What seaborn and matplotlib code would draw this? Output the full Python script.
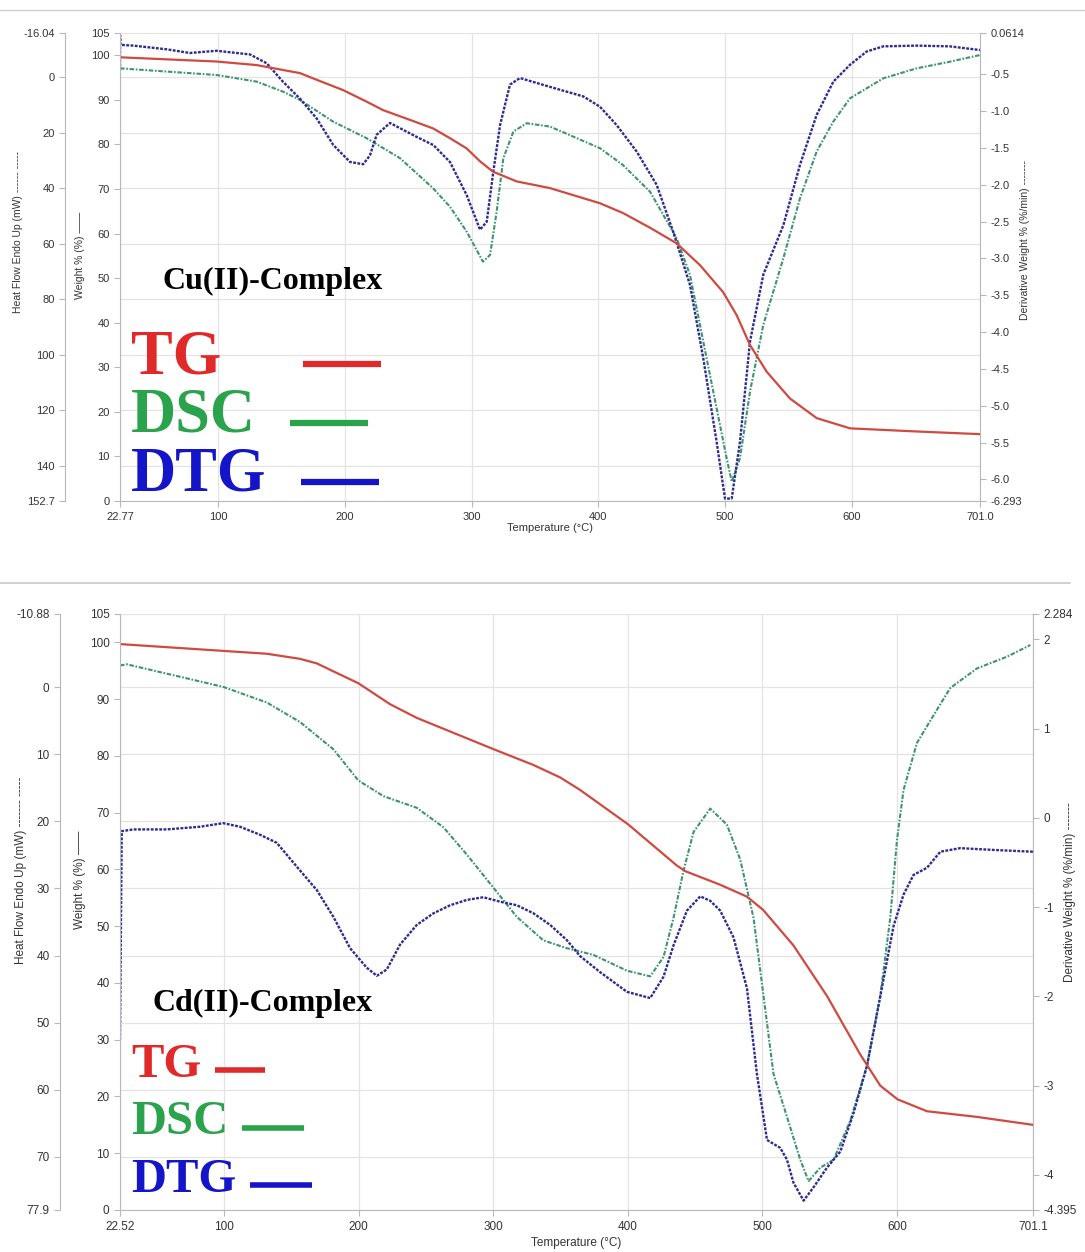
import numpy as np
import pandas as pd
import matplotlib
matplotlib.use("Agg")
import matplotlib.pyplot as plt
import seaborn as sns
from matplotlib.lines import Line2D

# ---------------- Cu(II)-Complex (top panel) ----------------
cu_tg_T = [22.77, 99.0, 130.6, 151.3, 164.7, 177.9, 198.6, 217.3, 230.2, 251.5, 269.6, 283.0,
           296.2, 306.7, 316.9, 335.6, 361.9, 401.3, 419.5, 440.8, 461.8, 480.2, 498.3, 509.1,
           519.6, 532.8, 551.1, 572.2, 598.5, 651.1, 701.0]
cu_tg_w = [99.55, 98.6, 97.8, 96.7, 96.0, 94.5, 92.2, 89.6, 87.7, 85.5, 83.6, 81.4,
           79.1, 76.2, 73.9, 71.7, 70.2, 66.8, 64.6, 61.3, 57.8, 52.9, 46.9, 41.7,
           35.0, 29.0, 23.0, 18.6, 16.3, 15.6, 15.0]

cu_dsc_T = [22.77, 99.0, 130.6, 151.3, 164.7, 190.8, 217.3, 243.6, 269.6, 283.0, 296.2, 309.0,
            314.6, 319.8, 325.1, 333.0, 343.5, 361.9, 401.3, 419.5, 440.8, 461.8, 472.3, 482.8,
            493.3, 501.2, 505.2, 511.7, 519.6, 530.1, 545.9, 559.0, 572.2, 585.3, 598.5, 624.7,
            651.1, 677.3, 701.0]
cu_dsc_hf = [-3.3, -0.9, 1.5, 5.1, 8.1, 15.9, 21.9, 29.1, 39.9, 46.6, 55.6, 66.4,
             64.0, 48.4, 29.1, 19.5, 16.5, 17.7, 25.5, 31.6, 41.2, 58.0, 71.2, 95.3,
             119.3, 137.3, 145.7, 137.3, 113.3, 89.2, 65.2, 43.6, 26.7, 15.9, 7.5, 0.3,
             -3.3, -5.7, -8.1]

cu_dtg_T = [22.77, 22.85, 22.95, 33.3, 59.6, 77.9, 99.0, 125.3, 138.5, 151.3, 164.7, 177.9,
            191.0, 204.2, 214.6, 219.9, 225.2, 235.7, 256.8, 269.9, 283.0, 296.2, 306.7, 312.0,
            317.2, 322.5, 330.3, 338.2, 361.9, 388.2, 401.3, 414.5, 430.3, 446.0, 459.1, 472.3,
            482.8, 493.3, 499.9, 505.2, 511.7, 519.6, 530.1, 545.9, 559.0, 572.2, 585.3, 598.5,
            611.6, 624.7, 651.1, 677.3, 701.0]
cu_dtg_d = [-0.45, 0.03, -0.10, -0.11, -0.16, -0.21, -0.18, -0.23, -0.35, -0.60, -0.83, -1.10,
            -1.46, -1.69, -1.72, -1.60, -1.32, -1.16, -1.35, -1.46, -1.69, -2.14, -2.61, -2.50,
            -1.82, -1.19, -0.64, -0.55, -0.67, -0.80, -0.94, -1.19, -1.55, -2.00, -2.64, -3.36,
            -4.36, -5.49, -6.26, -6.26, -5.49, -4.13, -3.22, -2.55, -1.73, -1.05, -0.60, -0.37,
            -0.19, -0.12, -0.11, -0.12, -0.17]

cu_xticks = [22.77, 100, 200, 300, 400, 500, 600, 701.0]
cu_xlabels = ["22.77", "100", "200", "300", "400", "500", "600", "701.0"]
cu_hf_ticks = [-16.04, 0, 20, 40, 60, 80, 100, 120, 140, 152.7]
cu_hf_labels = ["-16.04", "0", "20", "40", "60", "80", "100", "120", "140", "152.7"]
cu_dtg_ticks = [0.0614, -0.5, -1.0, -1.5, -2.0, -2.5, -3.0, -3.5, -4.0, -4.5, -5.0, -5.5, -6.0, -6.293]
cu_dtg_labels = ["0.0614", "-0.5", "-1.0", "-1.5", "-2.0", "-2.5", "-3.0", "-3.5", "-4.0",
                 "-4.5", "-5.0", "-5.5", "-6.0", "-6.293"]

# ---------------- Cd(II)-Complex (bottom panel) ----------------
cd_tg_T = [22.52, 99.3, 131.6, 156.3, 168.8, 181.1, 199.7, 223.3, 243.1, 267.9, 300.0, 329.8,
           349.7, 364.5, 400.4, 436.3, 442.6, 468.6, 488.5, 500.4, 523.1, 548.0, 572.7, 587.6,
           600.4, 622.3, 659.5, 701.1]
cd_tg_w = [99.7, 98.5, 98.0, 97.1, 96.3, 94.9, 92.8, 89.1, 86.7, 84.3, 81.2, 78.4,
           76.2, 74.0, 67.9, 60.7, 59.7, 57.3, 55.2, 52.9, 46.6, 37.7, 27.4, 21.9,
           19.5, 17.4, 16.4, 15.0]

cd_dsc_T = [22.52, 27.5, 99.3, 131.6, 156.3, 181.1, 199.7, 218.3, 243.1, 262.9, 280.3, 300.1,
            317.5, 337.2, 354.6, 374.4, 399.3, 416.6, 426.5, 433.9, 441.3, 448.8, 461.2, 473.6,
            483.5, 493.4, 500.8, 508.2, 518.2, 528.1, 534.3, 543.0, 552.9, 565.3, 577.7, 587.6,
            595.0, 600.0, 604.9, 614.9, 627.2, 639.6, 659.5, 681.8, 699.1]
cd_dsc_hf = [-3.21, -3.39, -0.02, 2.30, 5.21, 9.27, 13.92, 16.25, 17.99, 20.89, 24.96, 29.9,
             34.25, 37.74, 38.9, 39.9, 42.25, 43.1, 40.2, 34.4, 27.4, 21.6, 18.1, 20.5,
             25.7, 34.4, 46.0, 57.6, 64.0, 70.4, 73.6, 71.6, 70.4, 64.6, 56.4, 46.0,
             34.4, 22.8, 15.3, 8.3, 4.2, 0.14, -2.78, -4.52, -6.26]

cd_dtg_T = [22.52, 23.8, 32.4, 57.2, 82.0, 99.3, 111.7, 126.6, 139.0, 156.3, 168.8, 181.1,
            193.5, 205.9, 213.4, 220.8, 230.7, 243.1, 255.5, 267.9, 280.3, 292.6, 305.0, 317.5,
            329.8, 342.2, 354.6, 364.5, 379.4, 399.3, 416.6, 426.5, 433.9, 443.9, 453.8, 461.2,
            468.6, 478.5, 488.5, 495.9, 503.4, 513.3, 518.2, 523.1, 530.6, 538.0, 548.0, 557.9,
            567.7, 577.7, 587.6, 597.5, 604.9, 612.3, 622.3, 632.2, 647.0, 671.8, 701.1]
cd_dtg_d = [-2.49, -0.15, -0.13, -0.13, -0.10, -0.06, -0.10, -0.19, -0.28, -0.59, -0.81, -1.11,
            -1.46, -1.68, -1.77, -1.70, -1.42, -1.20, -1.07, -0.98, -0.92, -0.89, -0.94, -0.98,
            -1.07, -1.20, -1.37, -1.55, -1.73, -1.95, -2.02, -1.78, -1.43, -1.04, -0.88, -0.93,
            -1.04, -1.34, -1.91, -2.87, -3.61, -3.70, -3.83, -4.09, -4.29, -4.14, -3.92, -3.74,
            -3.31, -2.78, -2.00, -1.21, -0.86, -0.64, -0.56, -0.38, -0.34, -0.36, -0.38]

cd_xticks = [22.52, 100, 200, 300, 400, 500, 600, 701.1]
cd_xlabels = ["22.52", "100", "200", "300", "400", "500", "600", "701.1"]
cd_hf_ticks = [-10.88, 0, 10, 20, 30, 40, 50, 60, 70, 77.9]
cd_hf_labels = ["-10.88", "0", "10", "20", "30", "40", "50", "60", "70", "77.9"]
cd_dtg_ticks = [2.284, 2, 1, 0, -1, -2, -3, -4, -4.395]
cd_dtg_labels = ["2.284", "2", "1", "0", "-1", "-2", "-3", "-4", "-4.395"]

w_ticks = [0, 10, 20, 30, 40, 50, 60, 70, 80, 90, 100, 105]
w_labels = ["0", "10", "20", "30", "40", "50", "60", "70", "80", "90", "100", "105"]

# ---------------- style ----------------
sns.set_style("white")
plt.rcParams['font.family'] = ['Liberation Sans', 'DejaVu Sans']

W, H = 1085, 1252
fig = plt.figure(figsize=(W / 100, H / 100), dpi=100)
fig.patch.set_facecolor("white")

C_TG = "#cf4a40"
C_DSC = "#3d9470"
C_DTG = "#2c2c90"
SPINE = "#b8b8b8"
GRID = "#e4e4e4"
TXT = "#333333"


def rect(l, t, r, b):
    return [l / W, 1 - b / H, (r - l) / W, (b - t) / H]


def panel(box, hf_spine_px, xlim, xticks, xlabels, tgT, tgW, dscT, dscH, hf_lim, hf_ticks,
          hf_labels, dtgT, dtgD, dtg_lim, dtg_ticks, dtg_labels, fs):
    l, t, r, b = box
    ax_hf = fig.add_axes(rect(*box))
    ax_dtg = ax_hf.twinx()
    ax = ax_hf.twinx()
    for a, z in ((ax_hf, 1), (ax_dtg, 2), (ax, 3)):
        a.set_zorder(z)
        a.patch.set_visible(False)
        for s in a.spines.values():
            s.set_visible(False)

    # heat-flow axis (offset left), owns the grid
    ax_hf.set_xlim(*xlim)
    ax_hf.set_ylim(*hf_lim)
    ax_hf.set_xticks(xticks)
    ax_hf.set_xticklabels(xlabels)
    ax_hf.set_yticks(hf_ticks)
    ax_hf.set_yticklabels(hf_labels)
    ax_hf.spines['left'].set_visible(True)
    ax_hf.spines['left'].set_position(('axes', (hf_spine_px - l) / (r - l)))
    ax_hf.spines['left'].set_color(SPINE)
    ax_hf.spines['bottom'].set_visible(True)
    ax_hf.spines['bottom'].set_color(SPINE)
    ax_hf.grid(True, color=GRID, lw=0.9)
    ax_hf.tick_params(axis='both', colors=SPINE, labelcolor=TXT, labelsize=fs, length=4,
                      direction='out', left=True, bottom=True)
    ax_hf.tick_params(axis='x', pad=4)

    # weight axis (left, at plot edge)
    ax.set_ylim(0, 105)
    ax.set_yticks(w_ticks)
    ax.set_yticklabels(w_labels)
    ax.yaxis.set_ticks_position('left')
    ax.spines['left'].set_visible(True)
    ax.spines['left'].set_color(SPINE)
    ax.tick_params(axis='y', colors=SPINE, labelcolor=TXT, labelsize=fs, length=4,
                   left=True, right=False, labelleft=True, labelright=False)

    # derivative axis (right)
    ax_dtg.set_ylim(*dtg_lim)
    ax_dtg.set_yticks(dtg_ticks)
    ax_dtg.set_yticklabels(dtg_labels)
    ax_dtg.spines['right'].set_visible(True)
    ax_dtg.spines['right'].set_color(SPINE)
    ax_dtg.tick_params(axis='y', colors=SPINE, labelcolor=TXT, labelsize=fs, length=4)

    df_dsc = pd.DataFrame({"T": dscT, "v": dscH})
    df_dtg = pd.DataFrame({"T": dtgT, "v": dtgD})
    df_tg = pd.DataFrame({"T": tgT, "v": tgW})
    sns.lineplot(data=df_dsc, x="T", y="v", ax=ax_hf, color=C_DSC, lw=1.5,
                 linestyle=(0, (2.2, 0.8, 0.8, 0.8)), estimator=None, sort=False)
    sns.lineplot(data=df_dtg, x="T", y="v", ax=ax_dtg, color=C_DTG, lw=1.7,
                 linestyle=(0, (1.2, 0.6)), estimator=None, sort=False)
    sns.lineplot(data=df_tg, x="T", y="v", ax=ax, color=C_TG, lw=1.6,
                 estimator=None, sort=False)
    for a in (ax_hf, ax_dtg, ax):
        a.set_xlabel("")
        a.set_ylabel("")
        a.set_xlim(*xlim)
    return ax


# top panel
panel((120, 33, 980, 501), 65, (22.77, 701.0), cu_xticks, cu_xlabels,
      cu_tg_T, cu_tg_w, cu_dsc_T, cu_dsc_hf, (152.7, -16.04), cu_hf_ticks, cu_hf_labels,
      cu_dtg_T, cu_dtg_d, (-6.293, 0.0614), cu_dtg_ticks, cu_dtg_labels, 8)

# bottom panel
panel((120, 614, 1033, 1210), 60, (22.52, 701.1), cd_xticks, cd_xlabels,
      cd_tg_T, cd_tg_w, cd_dsc_T, cd_dsc_hf, (77.9, -10.88), cd_hf_ticks, cd_hf_labels,
      cd_dtg_T, cd_dtg_d, (-4.395, 2.284), cd_dtg_ticks, cd_dtg_labels, 8.5)


def ftext(x, y, s, **kw):
    fig.text(x / W, 1 - y / H, s, **kw)


def fline(x0, x1, y, color, lw):
    fig.add_artist(Line2D([x0 / W, x1 / W], [1 - y / H, 1 - y / H], color=color, lw=lw,
                          solid_capstyle='butt'))


# axis titles
lab = dict(color=TXT, rotation=90, ha='center', va='center')
ftext(18, 232, "Heat Flow Endo Up (mW) ------ -----", fontsize=7.5, **lab)
ftext(80, 255, "Weight % (%) ——", fontsize=7.5, **lab)
ftext(1025, 240, "Derivative Weight % (%/min) -------", fontsize=7.5, **lab)
ftext(550, 528, "Temperature (°C)", fontsize=8, color=TXT, ha='center', va='center')

ftext(21, 870, "Heat Flow Endo Up (mW) ------- -----", fontsize=8.5, **lab)
ftext(80, 880, "Weight % (%) ——", fontsize=8.5, **lab)
ftext(1070, 892, "Derivative Weight % (%/min) -------", fontsize=8.5, **lab)
ftext(576, 1243, "Temperature (°C)", fontsize=8.5, color=TXT, ha='center', va='center')

# separators
fig.add_artist(Line2D([0, 1], [1 - 10 / H, 1 - 10 / H], color="#d0d0d0", lw=1))
fig.add_artist(Line2D([0, 1070 / W], [1 - 583 / H, 1 - 583 / H], color="#c8c8c8", lw=1.2))

# overlay labels
serif = ['Liberation Serif', 'DejaVu Serif']
ftext(163, 281, "Cu(II)-Complex", fontsize=23, fontweight='bold', family=serif,
      color='black', ha='left', va='center')
ftext(131, 358, "TG", fontsize=45, fontweight='bold', family=serif, color="#e02a2a",
      ha='left', va='center')
ftext(131, 417, "DSC", fontsize=45, fontweight='bold', family=serif, color="#2ba24c",
      ha='left', va='center')
ftext(131, 476, "DTG", fontsize=45, fontweight='bold', family=serif, color="#1414c8",
      ha='left', va='center')
fline(303, 381, 364, "#e02a2a", 4.5)
fline(290, 368, 423, "#2ba24c", 4.5)
fline(301, 379, 482, "#1414c8", 4.5)

ftext(153, 1003, "Cd(II)-Complex", fontsize=23, fontweight='bold', family=serif,
      color='black', ha='left', va='center')
ftext(131, 1065, "TG", fontsize=35, fontweight='bold', family=serif, color="#e02a2a",
      ha='left', va='center')
ftext(131, 1122, "DSC", fontsize=35, fontweight='bold', family=serif, color="#2ba24c",
      ha='left', va='center')
ftext(131, 1180, "DTG", fontsize=35, fontweight='bold', family=serif, color="#1414c8",
      ha='left', va='center')
fline(215, 265, 1070, "#e02a2a", 4.0)
fline(242, 304, 1128, "#2ba24c", 4.0)
fline(250, 312, 1185, "#1414c8", 4.0)

fig.savefig("out.png", dpi=100, facecolor="white")
